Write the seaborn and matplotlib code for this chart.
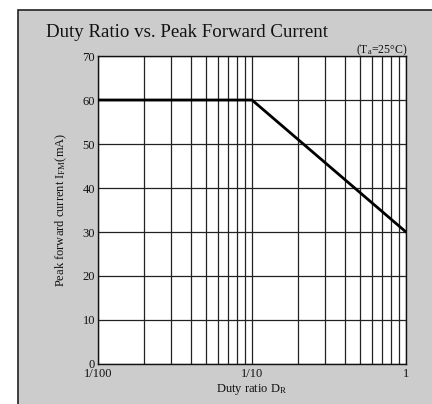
import numpy as np
import pandas as pd
import matplotlib
matplotlib.use("Agg")
import matplotlib.pyplot as plt
from matplotlib.patches import Rectangle
from matplotlib.ticker import LogLocator, NullFormatter, FixedLocator
import seaborn as sns

# data
duty_ratio = [0.01, 0.1, 1.0]
peak_current = [60, 60, 30]
x_ticks = [0.01, 0.1, 1.0]
x_tick_labels = ["1/100", "1/10", "1"]
y_ticks = [0, 10, 20, 30, 40, 50, 60, 70]

df = pd.DataFrame({"duty": duty_ratio, "ifm": peak_current})

sns.set_theme(style="white")
plt.rcParams["font.family"] = ["Liberation Serif", "DejaVu Serif"]
plt.rcParams["mathtext.default"] = "regular"
plt.rcParams["mathtext.fontset"] = "custom"
plt.rcParams["mathtext.rm"] = "Liberation Serif"

fig = plt.figure(figsize=(4.32, 4.04), dpi=100)
fig.patch.set_facecolor("white")

# gray panel with dark border on top/left
panel = Rectangle((18 / 432, -0.1), 1.2, 0.1 + (1 - 10 / 404),
                  transform=fig.transFigure, facecolor="#cccccc",
                  edgecolor="#222222", linewidth=1.2, zorder=-10)
fig.patches.append(panel)

ax = fig.add_axes([98 / 432, 1 - 364 / 404, 308 / 432, 308 / 404])
ax.set_zorder(5)
ax.set_facecolor("white")

sns.lineplot(data=df, x="duty", y="ifm", ax=ax, color="black",
             linewidth=2.0, zorder=5)

ax.set_xscale("log")
ax.set_xlim(0.01, 1.0)
ax.set_ylim(0, 70)
ax.xaxis.set_major_locator(FixedLocator(x_ticks))
ax.set_xticklabels(x_tick_labels)
ax.xaxis.set_minor_locator(LogLocator(base=10, subs=np.arange(2, 10)))
ax.xaxis.set_minor_formatter(NullFormatter())
ax.set_yticks(y_ticks)

ax.grid(True, which="both", axis="x", color="#222222", linewidth=0.9)
ax.grid(True, which="major", axis="y", color="#222222", linewidth=0.9)
ax.tick_params(axis="both", which="both", length=0, labelsize=9, colors="#111111")
ax.tick_params(axis="x", pad=3)
ax.tick_params(axis="y", pad=2)
for s in ax.spines.values():
    s.set_color("#111111")
    s.set_linewidth(1.0)

ax.set_xlabel(r"Duty ratio D$_\mathregular{R}$", fontsize=9, labelpad=1, color="#111111")
ax.set_ylabel(r"Peak forward current I$_\mathregular{FM}$(mA)", fontsize=9,
              labelpad=10, color="#111111")

fig.text(46 / 432, 1 - 37 / 404, "Duty Ratio vs. Peak Forward Current",
         fontsize=13.6, va="baseline", ha="left", color="#111111")
fig.text(407 / 432, 1 - 53 / 404, r"(T$_\mathregular{a}$=25°C)",
         fontsize=8.5, va="baseline", ha="right", color="#111111")

fig.savefig("out.png", dpi=100)
